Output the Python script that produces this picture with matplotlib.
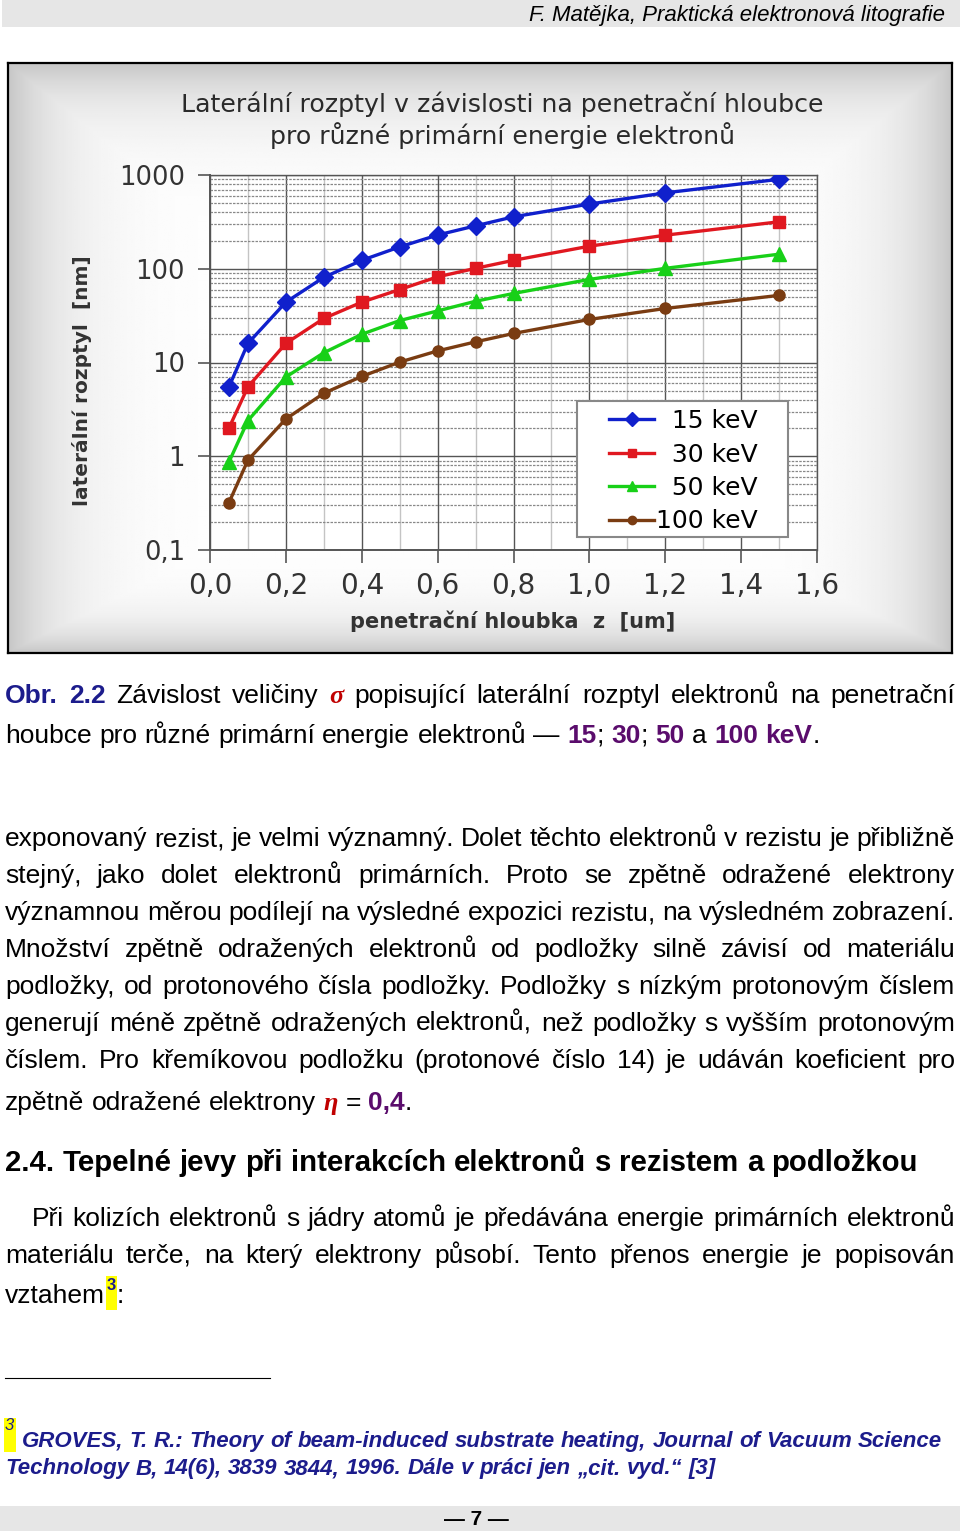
import matplotlib
matplotlib.use('Agg')
import matplotlib.pyplot as plt
import numpy as np
from matplotlib.patches import Rectangle
from matplotlib.lines import Line2D
from matplotlib.ticker import FixedLocator, FixedFormatter, LogLocator, NullFormatter

# chart data
depth = [0.05, 0.1, 0.2, 0.3, 0.4, 0.5, 0.6, 0.7, 0.8, 1.0, 1.2, 1.5]
spread_15 = [5.5, 16, 44, 81, 123, 171, 229, 287, 358, 490, 645, 900]
spread_30 = [2.0, 5.5, 16, 29.5, 44, 60, 82, 101, 123, 174, 228, 317]
spread_50 = [0.87, 2.4, 7.0, 12.7, 20, 28, 35.5, 45, 54.5, 77, 101, 143]
spread_100 = [0.32, 0.91, 2.5, 4.7, 7.1, 10.1, 13.3, 16.6, 20.4, 28.8, 37.7, 52]
series_labels = ['\u200715 keV', '\u200730 keV', '\u200750 keV', '100 keV']
x_ticks = [0.0, 0.2, 0.4, 0.6, 0.8, 1.0, 1.2, 1.4, 1.6]
x_ticklabels = ['0,0', '0,2', '0,4', '0,6', '0,8', '1,0', '1,2', '1,4', '1,6']
y_ticks = [0.1, 1, 10, 100, 1000]
y_ticklabels = ['0,1', '1', '10', '100', '1000']

W, H = 960, 1533
fig = plt.figure(figsize=(W / 100, H / 100), dpi=100)
r = fig.canvas.get_renderer()


def fx(x):
    return x / W


def fy(y):
    return 1 - y / H


# ---- chart frame with soft grey vignette
bg = fig.add_axes([fx(8), fy(653), (952 - 8) / W, (653 - 63) / H])
yy, xx = np.mgrid[0:1:300j, 0:1:450j]
dx = np.minimum(xx, 1 - xx) * 944
dy = np.minimum(yy * 590, (1 - yy) * 590 * 1.6)
shade = 1 - 0.22 * np.exp(-np.minimum(dx * 0.8, dy) / 45)
bg.imshow(shade, cmap='gray', vmin=0, vmax=1, extent=[0, 1, 0, 1], aspect='auto')
bg.set_xticks([])
bg.set_yticks([])
for s in bg.spines.values():
    s.set_linewidth(1.6)
    s.set_color('black')

# ---- the chart itself
ax = fig.add_axes([fx(210), fy(550), 607 / W, 375 / H])
ax.set_facecolor('white')
ax.set_yscale('log')

styles = [('#1020cc', 'D', 9), ('#e01820', 's', 8), ('#18d018', '^', 10), ('#7a3c12', 'o', 8)]
for vals, lab, (c, m, ms) in zip([spread_15, spread_30, spread_50, spread_100], series_labels, styles):
    ax.plot(depth, vals, color=c, marker=m, ms=ms, lw=2.4, label=lab, zorder=3)

ax.set_xlim(0, 1.6)
ax.set_ylim(0.1, 1000)
ax.xaxis.set_major_locator(FixedLocator(x_ticks))
ax.xaxis.set_major_formatter(FixedFormatter(x_ticklabels))
ax.xaxis.set_minor_locator(FixedLocator([t + 0.1 for t in x_ticks[:-1]]))
ax.yaxis.set_major_locator(FixedLocator(y_ticks))
ax.yaxis.set_major_formatter(FixedFormatter(y_ticklabels))
ax.yaxis.set_minor_locator(LogLocator(base=10, subs=range(2, 10)))
ax.yaxis.set_minor_formatter(NullFormatter())

ax.grid(which='major', color='#555555', lw=1.0)
ax.grid(which='minor', axis='x', color='#c4c4c4', lw=1.0)
ax.grid(which='minor', axis='y', color='#888888', lw=0.9, ls=(0, (2, 1)))
ax.set_axisbelow(True)
ax.tick_params(which='major', length=9, width=1.2, color='#555555', direction='out',
               labelcolor='#333333')
ax.tick_params(axis='x', labelsize=20, pad=7)
ax.tick_params(axis='y', labelsize=18.5, pad=9)
ax.tick_params(which='minor', length=0)
for name, s in ax.spines.items():
    s.set_color('#555555')
    s.set_linewidth(1.4 if name in ('left', 'bottom') else 1.0)

# legend drawn without its own frame, box added separately
leg = ax.legend(loc='upper left', bbox_to_anchor=(fx(604), fy(404)), bbox_transform=fig.transFigure,
                fontsize=18, frameon=False, borderpad=0.2, labelspacing=0.38, handlelength=1.8,
                handletextpad=0.1, borderaxespad=0, markerscale=0.75)
leg.set_zorder(6)
ax.add_artist(Rectangle((fx(577), fy(537)), (788 - 577) / W, (537 - 401) / H,
                        transform=fig.transFigure, facecolor='white', edgecolor='#888888',
                        lw=1.5, zorder=5))

fig.text(fx(502), fy(120), 'Laterální rozptyl v závislosti na penetrační hloubce\npro různé primární energie elektronů',
         ha='center', va='center', fontsize=18.2, color='#2a2a2a', linespacing=1.25)
fig.text(fx(82), fy(381), 'laterální rozptyl  [nm]', rotation=90, ha='center', va='center',
         fontsize=14.5, fontweight='bold', color='#333333')
fig.text(fx(513), fy(621), 'penetrační hloubka  z  [um]', ha='center', va='center',
         fontsize=15, fontweight='bold', color='#333333')

# ---- page text around the figure
SANS = ['Liberation Sans', 'DejaVu Sans']
BLACK = dict(color='black', family=SANS)
NAVY = dict(color='#1c1c8c', family=SANS, fontweight='bold')
PURPLE = dict(color='#5a0c6c', family=SANS, fontweight='bold')
GREEK = dict(color='#c00000', family=['Liberation Serif', 'DejaVu Serif'], fontweight='bold', fontstyle='italic')
FOOT = dict(color='#1c1c8c', family=SANS, fontweight='bold', fontstyle='italic')
HEAD = dict(color='black', family=SANS, fontweight='bold')


def words_of(segs):
    words = [[]]
    for txt, st in segs:
        parts = txt.split(' ')
        for i, p in enumerate(parts):
            if i > 0:
                words.append([])
            if p:
                words[-1].append((p, st))
    return [w for w in words if w]


def draw_line(base, segs, size=19, x0=5, x1=955, justify=True):
    words = words_of(segs)
    placed, widths = [], []
    for w in words:
        pieces, tot = [], 0
        for txt, st in w:
            t = fig.text(0, fy(base), txt, fontsize=size, va='baseline', ha='left', **st)
            pw = t.get_window_extent(r).width
            pieces.append((t, pw))
            tot += pw
        placed.append(pieces)
        widths.append(tot)
    if justify and len(words) > 1:
        gap = (x1 - x0 - sum(widths)) / (len(words) - 1)
    else:
        gap = 0.28 * size * 100 / 72
    x = x0
    for pieces in placed:
        for t, pw in pieces:
            t.set_x(fx(x))
            x += pw
        x += gap
    return x - gap


def highlight(x0, x1, y0, y1):
    fig.patches.append(Rectangle((fx(x0), fy(y1)), (x1 - x0) / W, (y1 - y0) / H,
                                 transform=fig.transFigure, facecolor='#ffff00', edgecolor='none', zorder=0))


# header / footer bands
fig.patches.append(Rectangle((fx(2), fy(27)), 958 / W, 27 / H, transform=fig.transFigure,
                             facecolor='#e6e6e6', edgecolor='none', zorder=0))
fig.patches.append(Rectangle((0, fy(1531)), 1, 25 / H, transform=fig.transFigure,
                             facecolor='#e6e6e6', edgecolor='none', zorder=0))
fig.text(fx(945), fy(21), 'F. Matějka, Praktická elektronová litografie', ha='right', va='baseline',
         fontsize=16, fontstyle='italic', color='black', family=SANS)
fig.text(fx(476), fy(1525), '— 7 —', ha='center', va='baseline', fontsize=15, fontweight='bold',
         color='black', family=SANS)

# caption
draw_line(703, [('Obr. 2.2', NAVY), (' Závislost veličiny ', BLACK), ('σ', GREEK),
                (' popisující laterální rozptyl elektronů na penetrační', BLACK)])
draw_line(743, [('houbce pro různé primární energie elektronů — ', BLACK), ('15', PURPLE), ('; ', BLACK),
                ('30', PURPLE), ('; ', BLACK), ('50', PURPLE), (' a ', BLACK), ('100 keV', PURPLE),
                ('.', BLACK)], justify=False)

body = [
    'exponovaný rezist, je velmi významný.  Dolet těchto elektronů v  rezistu je přibližně',
    'stejný, jako dolet elektronů primárních. Proto se zpětně odražené elektrony',
    'významnou měrou podílejí na výsledné expozici rezistu, na výsledném zobrazení.',
    'Množství zpětně odražených elektronů od podložky silně závisí od materiálu',
    'podložky, od protonového čísla podložky. Podložky s nízkým protonovým číslem',
    'generují méně zpětně odražených elektronů, než podložky s vyšším protonovým',
    'číslem. Pro křemíkovou podložku (protonové číslo 14) je udáván koeficient pro',
]
for i, line in enumerate(body):
    draw_line(846 + 37 * i, [(line, BLACK)])
draw_line(1110, [('zpětně odražené elektrony ', BLACK), ('η', GREEK), (' = ', BLACK), ('0,4', PURPLE),
                 ('.', BLACK)], justify=False)

draw_line(1171, [('2.4. Tepelné jevy při interakcích elektronů s rezistem a podložkou', HEAD)],
          size=21.2, justify=False)
draw_line(1226, [('Při kolizích elektronů s jádry atomů je předávána energie primárních elektronů', BLACK)], x0=32)
draw_line(1263, [('materiálu terče, na  který elektrony působí. Tento přenos energie je popisován', BLACK)])
xe = draw_line(1303, [('vztahem', BLACK)], justify=False)
highlight(xe + 1, xe + 12, 1276, 1310)
fig.text(fx(xe + 2), fy(1290), '3', fontsize=12, va='baseline', ha='left', color='#1c1c8c',
         fontweight='bold', family=SANS)
fig.text(fx(xe + 12), fy(1303), ':', fontsize=19, va='baseline', **BLACK)

# footnote
fig.add_artist(Line2D([fx(5), fx(270)], [fy(1378), fy(1378)], color='black', lw=0.8))
highlight(4, 16, 1418, 1452)
fig.text(fx(5), fy(1430), '3', fontsize=12, va='baseline', ha='left', color='#1c1c8c', fontstyle='italic',
         family=SANS)
draw_line(1447, [('GROVES, T. R.: Theory of beam-induced substrate heating, Journal of Vacuum Science', FOOT)],
          size=16, x0=22, justify=False)
draw_line(1474, [('Technology B, 14(6), 3839 3844, 1996. Dále v práci jen „cit. vyd.“ [3]', FOOT)],
          size=16, justify=False)

fig.savefig('out.png', dpi=100)
